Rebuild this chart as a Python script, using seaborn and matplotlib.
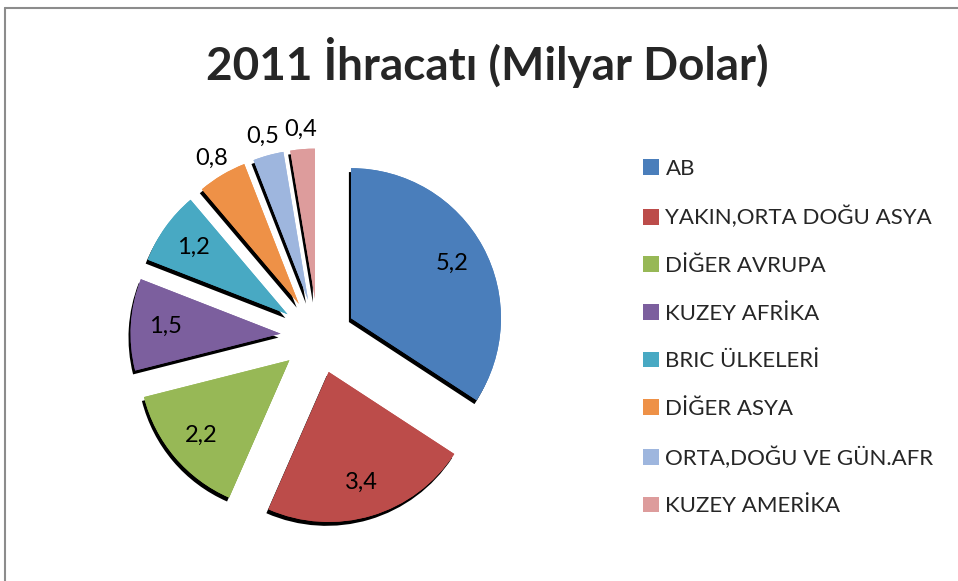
import matplotlib
matplotlib.use("Agg")
import matplotlib.pyplot as plt
import matplotlib.patheffects as pe
from matplotlib.patches import Patch
from matplotlib.lines import Line2D
import numpy as np
import seaborn as sns

# veriler (milyar dolar)
regions = ['AB', 'YAKIN,ORTA DOĞU ASYA', 'DİĞER AVRUPA', 'KUZEY AFRİKA',
           'BRIC ÜLKELERİ', 'DİĞER ASYA', 'ORTA,DOĞU VE GÜN.AFR', 'KUZEY AMERİKA']
values = [5.2, 3.4, 2.2, 1.5, 1.2, 0.8, 0.5, 0.4]
value_labels = ['5,2', '3,4', '2,2', '1,5', '1,2', '0,8', '0,5', '0,4']
colors = ['#4A7EBB', '#BC4C4A', '#97B856', '#7C5F9E', '#48A9C3',
          '#EE9147', '#9EB6DE', '#DD9C9C']

sns.set_theme(style='white')
plt.rcParams['font.family'] = ['Lato', 'DejaVu Sans']

fig = plt.figure(figsize=(9.58, 5.81), dpi=100)
ax = fig.add_axes([0.0971, 0.0344, 0.4697, 0.7745])

shadow = [pe.withSimplePatchShadow(offset=(-1.5, -2.8), shadow_rgbFace='black', alpha=1.0),
          pe.Normal()]

wedges, texts = ax.pie(values, labels=value_labels, colors=colors,
                       startangle=90, counterclock=False,
                       explode=[0.25] * len(values), labeldistance=0.77,
                       wedgeprops=dict(linewidth=0, path_effects=shadow),
                       textprops=dict(fontsize=17, color='black'))

# küçük dilimlerin etiketleri dışarıda
for i, (w, t) in enumerate(zip(wedges, texts)):
    t.set_ha('center')
    t.set_va('center')
    if values[i] < 1.0:
        mid = np.deg2rad((w.theta1 + w.theta2) / 2)
        cx, cy = w.center
        t.set_position((cx + 1.13 * np.cos(mid), cy + 1.13 * np.sin(mid)))

ax.set_xlim(-1.5, 1.5)
ax.set_ylim(-1.5, 1.5)
ax.set_aspect('equal')
ax.axis('off')

fig.text(487 / 958, 1 - 62 / 581, '2011 İhracatı (Milyar Dolar)',
         ha='center', va='center', fontsize=33, fontweight='bold')

handles = [Patch(facecolor=c, edgecolor='none') for c in colors]
fig.legend(handles, regions, loc='upper left', bbox_to_anchor=(0.671, 0.727),
           frameon=False, fontsize=16, handlelength=0.72, handleheight=0.72,
           handletextpad=0.3, labelspacing=1.24, borderpad=0, borderaxespad=0)

# çerçeve
fig.add_artist(Line2D([5 / 958, 5 / 958], [0, 1 - 8 / 581], color='#8c8c8c', lw=1.5))
fig.add_artist(Line2D([5 / 958, 1], [1 - 8 / 581, 1 - 8 / 581], color='#8c8c8c', lw=1.5))

fig.savefig('out.png', dpi=100)
